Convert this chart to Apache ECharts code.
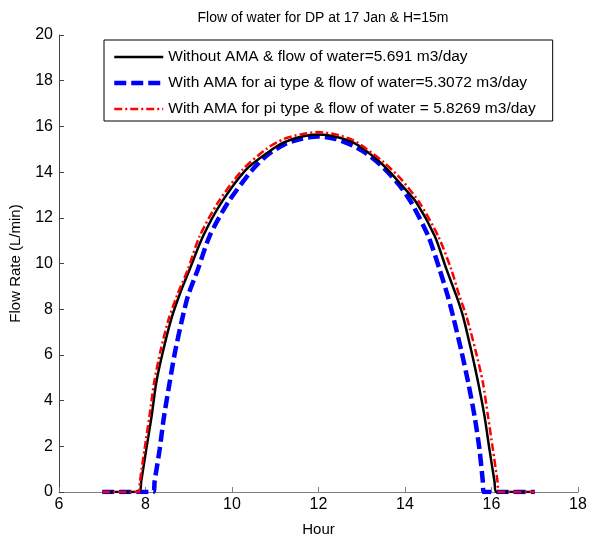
<!DOCTYPE html>
<html>
<head>
<meta charset="utf-8">
<script src="https://cdn.jsdelivr.net/npm/echarts@6/dist/echarts.min.js"></script>
<style>
html,body{margin:0;padding:0;background:#fff;}
#chart{width:590px;height:542px;}
</style>
</head>
<body>
<div id="chart"></div>
<script>
var titleText = 'Flow of water for DP at 17 Jan & H=15m';
var xName = 'Hour';
var yName = 'Flow Rate (L/min)';
var seriesNames = [
  'Without AMA & flow of water=5.691 m3/day',
  'With AMA for ai type & flow of water=5.3072 m3/day',
  'With AMA for pi type & flow of water = 5.8269 m3/day'
];
var xTicks = [6, 8, 10, 12, 14, 16, 18];
var yTicks = [0, 2, 4, 6, 8, 10, 12, 14, 16, 18, 20];

var hoursBlack = [7.0,7.86,7.9,8.02,8.14,8.25,8.41,8.6,8.8,9.02,9.33,9.75,10.32,10.82,11.2,11.59,12.0,12.4,12.8,13.12,13.5,13.89,14.27,14.69,14.96,15.19,15.34,15.53,15.69,15.84,15.95,16.07,16.11,17.0];
var flowBlack  = [0,0,0.45,1.9,3.3,4.8,6.2,7.6,8.7,9.74,11.19,12.65,14.1,14.85,15.3,15.55,15.65,15.55,15.3,14.9,14.3,13.5,12.65,11.19,9.74,8.57,7.7,6.2,4.8,3.3,1.9,0.45,0,0];

var hoursBlue = [7.0,8.18,8.21,8.33,8.42,8.55,8.68,8.84,8.98,9.21,9.48,9.9,10.47,10.82,11.2,11.59,12.0,12.4,12.8,13.12,13.5,13.89,14.15,14.54,14.8,14.99,15.11,15.3,15.46,15.61,15.72,15.8,15.82,17.0];
var flowBlue  = [0,0,0.45,1.9,3.2,4.7,6.1,7.5,8.57,9.74,11.19,12.65,14.1,14.75,15.2,15.45,15.56,15.45,15.15,14.8,14.2,13.38,12.65,11.19,9.74,8.57,7.7,6.2,4.8,3.3,1.9,0.45,0,0];

var hoursRed = [7.0,7.84,7.87,7.98,8.09,8.2,8.35,8.54,8.75,8.98,9.25,9.67,10.24,10.82,11.2,11.59,12.0,12.4,12.8,13.12,13.5,13.92,14.34,14.77,15.07,15.26,15.42,15.63,15.8,15.92,16.03,16.14,16.17,17.0];
var flowRed  = [0,0,0.45,1.9,3.3,4.8,6.2,7.6,8.7,9.74,11.19,12.65,14.1,15.05,15.45,15.65,15.75,15.65,15.4,15.0,14.45,13.67,12.65,11.19,9.74,8.57,7.7,6.2,4.8,3.3,1.9,0.45,0,0];

function pairs(xs, ys){ return xs.map(function(x,i){ return [x, ys[i]]; }); }

var chart = echarts.init(document.getElementById('chart'));
var font = 'Liberation Sans, Arial, sans-serif';
chart.setOption({
  animation: false,
  backgroundColor: '#fff',
  title: {
    text: titleText, left: 318, top: 6, textAlign: 'center',
    textStyle: {fontFamily: font, fontSize: 14, fontWeight: 'normal', color: '#000'}
  },
  grid: {left: 57, right: 12, top: 35, bottom: 49},
  legend: {
    orient: 'vertical', left: 104, top: 40,
    padding: [9, 17, 4, 8],
    itemGap: 10, itemWidth: 49, itemHeight: 18,
    borderColor: '#000', borderWidth: 1, backgroundColor: '#fff',
    itemStyle: {opacity: 0},
    textStyle: {fontFamily: font, fontSize: 15.5, color: '#000'},
    data: [
      {name: seriesNames[0], lineStyle: {width: 2.5}},
      {name: seriesNames[1], lineStyle: {width: 4.5}},
      {name: seriesNames[2], lineStyle: {width: 2.5}}
    ]
  },
  xAxis: {
    type: 'value', min: xTicks[0], max: xTicks[xTicks.length-1], interval: 2,
    name: xName, nameLocation: 'middle', nameGap: 30,
    nameTextStyle: {fontFamily: font, fontSize: 15, color: '#000'},
    axisLine: {onZero: false, lineStyle: {color: '#808080', width: 1}},
    axisTick: {inside: true, length: 5, lineStyle: {color: '#808080'}},
    axisLabel: {fontFamily: font, fontSize: 16, color: '#000', margin: 5},
    splitLine: {show: false}
  },
  yAxis: {
    type: 'value', min: yTicks[0], max: yTicks[yTicks.length-1], interval: 2,
    name: yName, nameLocation: 'middle', nameGap: 36,
    nameTextStyle: {fontFamily: font, fontSize: 15, color: '#000'},
    axisLine: {show: true, lineStyle: {color: '#444', width: 1}},
    axisTick: {show: true, inside: true, length: 5, lineStyle: {color: '#444'}},
    axisLabel: {fontFamily: font, fontSize: 16, color: '#000', margin: 6},
    splitLine: {show: false}
  },
  series: [
    {
      name: seriesNames[0], type: 'line', data: pairs(hoursBlack, flowBlack),
      smooth: 0.25, symbol: 'none', z: 3,
      lineStyle: {color: '#000', width: 2.5}, itemStyle: {color: '#000'}
    },
    {
      name: seriesNames[1], type: 'line', data: pairs(hoursBlue, flowBlue),
      smooth: 0.25, symbol: 'none', z: 2,
      lineStyle: {color: '#0000ff', width: 4.5, type: [12, 5]}, itemStyle: {color: '#0000ff'}
    },
    {
      name: seriesNames[2], type: 'line', data: pairs(hoursRed, flowRed),
      smooth: 0.25, symbol: 'none', z: 4,
      lineStyle: {color: '#ff0000', width: 2.5, type: [8, 3, 2, 3]}, itemStyle: {color: '#ff0000'}
    }
  ]
});
</script>
</body>
</html>
